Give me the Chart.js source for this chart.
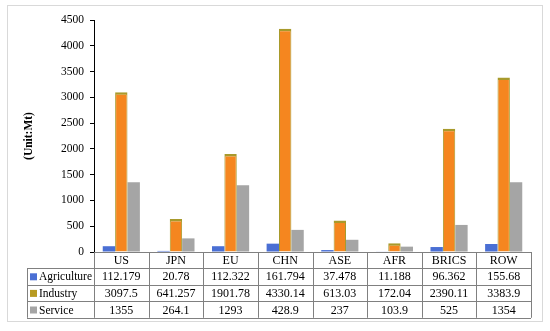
<!DOCTYPE html>
<html>
<head>
<meta charset="utf-8">
<script src="https://cdn.jsdelivr.net/npm/chart.js@4.4.0/dist/chart.umd.min.js"></script>
<style>
  html, body { margin: 0; padding: 0; background: #fff; }
  #wrap { position: relative; width: 550px; height: 331px; }
  #frame { position: absolute; left: 7px; top: 5px; width: 536px; height: 317px; border: 1px solid #d9d9d9; box-sizing: border-box; }
</style>
</head>
<body>
<div id="wrap">
  <div id="frame"></div>
  <canvas id="myBarChart" width="550" height="331"></canvas>
</div>
<script>
const regions = ["US", "JPN", "EU", "CHN", "ASE", "AFR", "BRICS", "ROW"];
const agriculture = [112.179, 20.78, 112.322, 161.794, 37.478, 11.188, 96.362, 155.68];
const industry = [3097.5, 641.257, 1901.78, 4330.14, 613.03, 172.04, 2390.11, 3383.9];
const service = [1355, 264.1, 1293, 428.9, 237, 103.9, 525, 1354];
const yTicks = [0, 500, 1000, 1500, 2000, 2500, 3000, 3500, 4000, 4500];

// the text shown in the table cells (kept as in the source table)
const agricultureText = ["112.179", "20.78", "112.322", "161.794", "37.478", "11.188", "96.362", "155.68"];
const industryText = ["3097.5", "641.257", "1901.78", "4330.14", "613.03", "172.04", "2390.11", "3383.9"];
const serviceText = ["1355", "264.1", "1293", "428.9", "237", "103.9", "525", "1354"];

const FONT = "'Liberation Serif', 'Times New Roman', serif";

// draws the data table under the plot, columns follow the x scale
const dataTablePlugin = {
    id: "dataTable",
    afterDraw(chart) {
        const ctx = chart.ctx;
        const x = chart.scales.x;
        const area = chart.chartArea;
        const colW = (x.right - x.left) / regions.length;
        const top = area.bottom;
        const headH = 16;
        const rowH = 16.6;
        const tableLeft = 27;
        const bottom = top + headH + rowH * 3;

        ctx.save();
        ctx.strokeStyle = "#808080";
        ctx.lineWidth = 1;

        // horizontal lines
        ctx.beginPath();
        ctx.moveTo(x.left, top + 0.5);
        ctx.lineTo(x.right, top + 0.5);
        for (let r = 0; r <= 3; r++) {
            const yy = Math.round(top + headH + rowH * r) + 0.5;
            ctx.moveTo(tableLeft, yy);
            ctx.lineTo(x.right, yy);
        }
        // vertical lines
        ctx.moveTo(tableLeft + 0.5, top + headH);
        ctx.lineTo(tableLeft + 0.5, bottom);
        for (let c = 0; c <= regions.length; c++) {
            const xx = Math.round(x.left + colW * c) + 0.5;
            ctx.moveTo(xx, top);
            ctx.lineTo(xx, bottom);
        }
        ctx.stroke();

        // cells
        ctx.fillStyle = "#000";
        ctx.font = "12px " + FONT;
        ctx.textAlign = "center";
        ctx.textBaseline = "middle";
        regions.forEach((r, i) => {
            ctx.fillText(r, x.getPixelForValue(i), top + headH / 2 + 1);
        });
        const rows = [
            { label: "Agriculture", color: "#4a6fd4", text: agricultureText },
            { label: "Industry", color: "#b89b22", text: industryText },
            { label: "Service", color: "#a5a5a5", text: serviceText },
        ];
        rows.forEach((row, ri) => {
            const cy = top + headH + rowH * ri + rowH / 2 + 1;
            ctx.fillStyle = row.color;
            ctx.fillRect(tableLeft + 3, cy - 4, 7, 7);
            ctx.fillStyle = "#000";
            ctx.textAlign = "left";
            ctx.font = "11.5px " + FONT;
            ctx.fillText(row.label, tableLeft + 12, cy, x.left - tableLeft - 13);
            ctx.font = "12px " + FONT;
            ctx.textAlign = "center";
            row.text.forEach((t, i) => {
                ctx.fillText(t, x.getPixelForValue(i), cy);
            });
        });
        ctx.restore();
    },
};

const ctx = document.getElementById("myBarChart").getContext("2d");

new Chart(ctx, {
    type: "bar",
    data: {
        labels: regions,
        datasets: [
            {
                label: "Agriculture",
                data: agriculture,
                backgroundColor: "#4a6fd4",
                borderWidth: 0,
            },
            {
                label: "Industry",
                data: industry,
                backgroundColor: "#f5861f",
                borderColor: "#a89a2c",
                borderWidth: { top: 2.5, left: 1, right: 1 },
                borderSkipped: "bottom",
            },
            {
                label: "Service",
                data: service,
                backgroundColor: "#a5a5a5",
                borderWidth: 0,
            },
        ],
    },
    options: {
        responsive: false,
        animation: false,
        layout: {
            padding: { left: 22, right: 19, top: 20, bottom: 13 },
        },
        datasets: {
            bar: { categoryPercentage: 0.68, barPercentage: 1 },
        },
        plugins: {
            legend: { display: false },
            tooltip: { enabled: false },
        },
        scales: {
            x: {
                ticks: { display: false },
                grid: { display: false },
                border: { display: false },
                afterFit: (scale) => { scale.height = 66; },
            },
            y: {
                min: 0,
                max: 4500,
                afterBuildTicks: (scale) => { scale.ticks = yTicks.map((v) => ({ value: v })); },
                ticks: {
                    color: "#000",
                    font: { family: FONT, size: 11.5 },
                    padding: 6,
                    callback: (value) => String(value),
                },
                grid: {
                    drawOnChartArea: false,
                    drawTicks: true,
                    tickLength: 4,
                    color: "#000",
                },
                border: { display: true, color: "#000", width: 1 },
                title: {
                    display: true,
                    text: "(Unit:Mt)",
                    color: "#000",
                    font: { family: FONT, size: 11.5, weight: "bold" },
                    padding: { top: 0, bottom: 22 },
                },
                afterFit: (scale) => { scale.width = 72; },
            },
        },
    },
    plugins: [dataTablePlugin],
});
</script>
</body>
</html>
